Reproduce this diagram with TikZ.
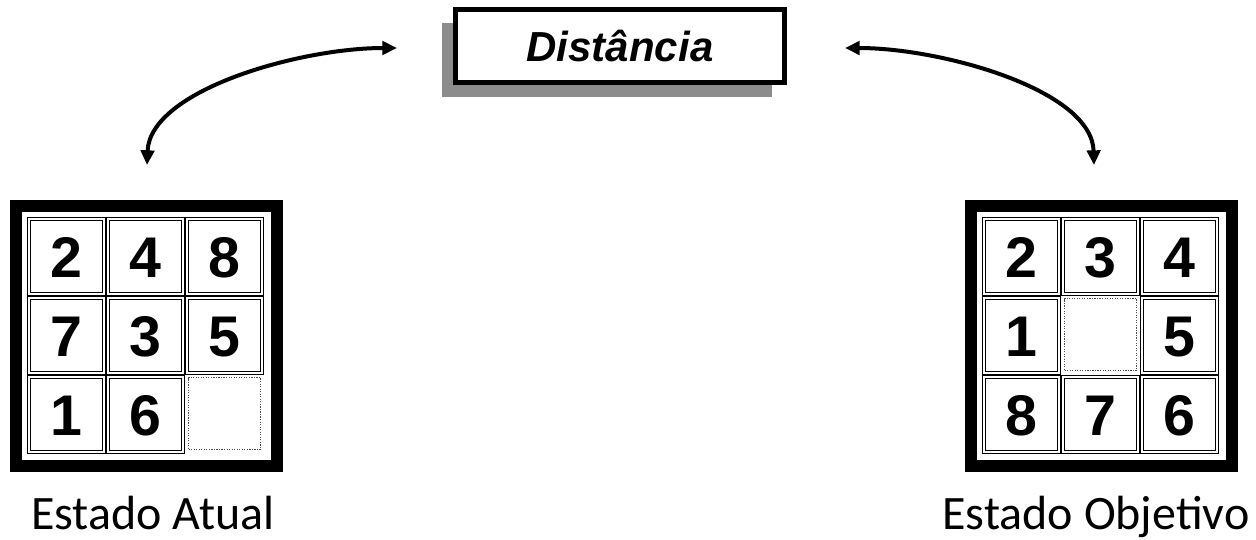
\documentclass[tikz,border=0pt]{standalone}
\usepackage{fontspec}
\setmainfont{Liberation Sans}
\newfontfamily\labelfont{Carlito}
\usetikzlibrary{arrows.meta,shadows}
\begin{document}
\begin{tikzpicture}[x=0.75pt,y=-0.75pt,
  cell/.style={draw, double, line width=0.7pt, double distance=1.4pt,
    minimum size=56pt, inner sep=0pt, text height=30.8pt, text depth=0pt,
    font=\fontsize{43}{43}\selectfont\bfseries},
  emptycell/.style={draw=black!70, densely dotted, line width=0.9pt,
    minimum size=54pt, inner sep=0pt},
  frame/.style={draw, line width=9pt, minimum width=196pt, minimum height=195.5pt, inner sep=0pt},
  distbox/.style={draw, line width=3.75pt, fill=white, minimum width=247pt, minimum height=55pt,
    font=\fontsize{31.5}{31.5}\selectfont\bfseries\itshape,
    drop shadow={shadow xshift=-9.75pt, shadow yshift=-10.5pt, fill=black!45, opacity=1}},
  statelabel/.style={font=\labelfont\fontsize{36}{36}\selectfont, anchor=base, inner sep=0pt},
  arr/.style={{Triangle[length=11pt,width=10pt]}-{Triangle[length=11pt,width=10pt]}, line width=3pt}
]
\useasboundingbox (0,0) rectangle (1256,539);

% Distance box
\node[distbox] (dist) at (620,46) {Distância};

% Frames
\node[frame] (fL) at (146.5,336) {};
\node[frame] (fR) at (1101.5,336) {};

% Left grid (current state)
\foreach \n/\c/\r in {2/0/0,4/1/0,8/2/0,7/0/1,3/1/1,5/2/1,1/0/2,6/1/2}{
  \node[cell] (L\c\r) at ({66.5+79*\c},{256.5+79*\r}) {\n};
}
\node[emptycell] (L22) at (224.5,413.5) {};

% Right grid (goal state)
\foreach \n/\c/\r in {2/0/0,3/1/0,4/2/0,1/0/1,5/2/1,8/0/2,7/1/2,6/2/2}{
  \node[cell] (R\c\r) at ({1021.5+79*\c},{256.5+79*\r}) {\n};
}
\node[emptycell] (R11) at (1100.5,334.5) {};

% Labels
\node[statelabel] (labL) at (153,529) {Estado Atual};
\node[statelabel] (labR) at (1096,529) {Estado Objetivo};

% Arrow end points
\coordinate (aL1) at (397,48);
\coordinate (aL2) at (147,165);
\coordinate (aR1) at (845,48);
\coordinate (aR2) at (1094,165);

\draw[arr] (aL1) .. controls (300,48) and (150,90) .. (aL2);
\draw[arr] (aR1) .. controls (942,48) and (1092,90) .. (aR2);
\end{tikzpicture}
\end{document}
